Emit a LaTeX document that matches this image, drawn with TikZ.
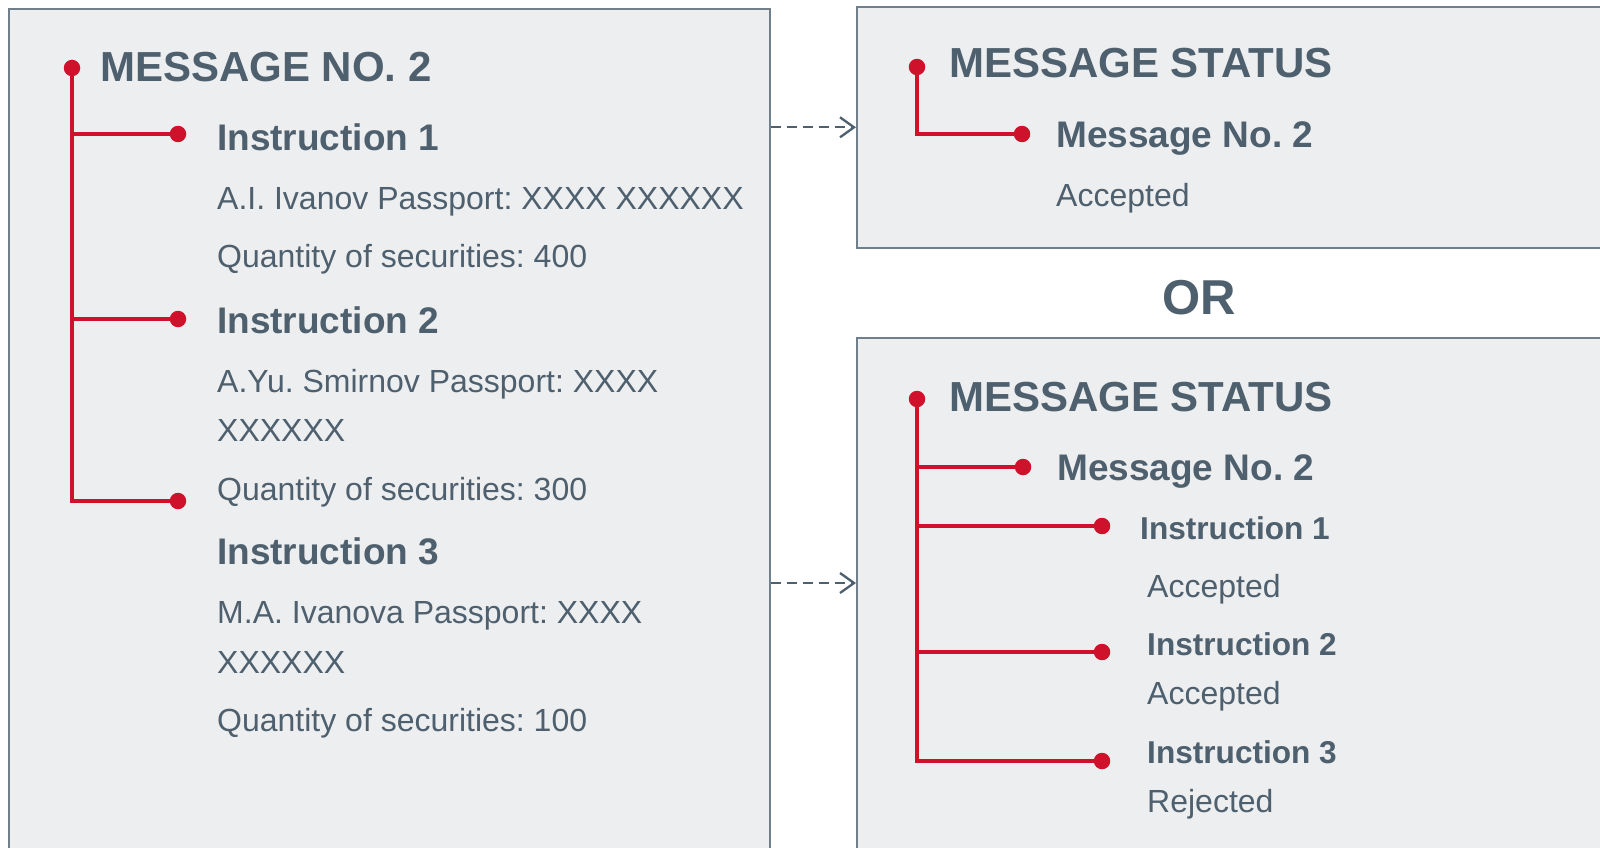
\documentclass[tikz,border=0pt]{standalone}
\usepackage{fontspec}
\setmainfont{Liberation Sans}
\usetikzlibrary{arrows.meta}
\definecolor{panelfill}{HTML}{EDEEF0}
\definecolor{panelline}{HTML}{6F7F8C}
\definecolor{slate}{HTML}{4E5F6E}
\definecolor{tred}{HTML}{D0112B}
\frenchspacing
\tikzset{
  panel/.style={draw=panelline,line width=1.6pt,fill=panelfill,anchor=north west,inner sep=0},
  ttl/.style={anchor=base west,inner sep=0,text=slate,font=\fontsize{42}{50}\selectfont\bfseries},
  hd/.style={anchor=base west,inner sep=0,text=slate,font=\fontsize{37}{44}\selectfont\bfseries},
  hds/.style={anchor=base west,inner sep=0,text=slate,font=\fontsize{31.6}{38}\selectfont\bfseries},
  txt/.style={anchor=base west,inner sep=0,text=slate,font=\fontsize{32}{38}\selectfont},
  dot/.style={circle,fill=tred,inner sep=0,minimum size=16.5pt},
  tree/.style={draw=tred,line width=3.2pt},
  flow/.style={draw=slate,line width=2.3pt,dash pattern=on 10pt off 6pt,-{Straight Barb[length=14pt,width=20pt]}}
}
\begin{document}
\begin{tikzpicture}[x=1pt,y=-1pt]
\useasboundingbox (0,0) rectangle (1600,848);
\clip (0,0) rectangle (1600,848);
% panels
\node[panel,minimum width=761pt,minimum height=860pt] (msg) at (8,8) {};
\node[panel,minimum width=760pt,minimum height=241pt] (statA) at (856,6) {};
\node[panel,minimum width=760pt,minimum height=530pt] (statB) at (856,337) {};
% message
\node[ttl] (msgttl) at (100,82) {MESSAGE NO. 2};
\node[hd] (ins1) at (217,150) {Instruction 1};
\node[txt] (pas1) at (217,209) {A.I. Ivanov Passport: XXXX XXXXXX};
\node[txt] (qty1) at (217,267) {Quantity of securities: 400};
\node[hd] (ins2) at (217,333) {Instruction 2};
\node[txt] (pas2) at (217,392) {A.Yu. Smirnov Passport: XXXX};
\node[txt] (pas2b) at (217,441) {XXXXXX};
\node[txt] (qty2) at (217,500) {Quantity of securities: 300};
\node[hd] (ins3) at (217,564) {Instruction 3};
\node[txt] (pas3) at (217,623) {M.A. Ivanova Passport: XXXX};
\node[txt] (pas3b) at (217,673) {XXXXXX};
\node[txt] (qty3) at (217,731) {Quantity of securities: 100};
\node[dot] (m0) at (72,68) {};
\node[dot] (m1) at (178,134) {};
\node[dot] (m2) at (178,319) {};
\node[dot] (m3) at (178,501) {};
\draw[tree] (m0) |- (m1);
\draw[tree] (m0) |- (m2);
\draw[tree] (m0) |- (m3);
% status, accepted
\node[ttl] (attl) at (949,78) {MESSAGE STATUS};
\node[hd] (amsg) at (1056,147) {Message No. 2};
\node[txt] (aacc) at (1056,206) {Accepted};
\node[dot] (a0) at (917,67) {};
\node[dot] (a1) at (1022,134) {};
\draw[tree] (a0) |- (a1);
% or
\node[anchor=base,inner sep=0,text=slate,font=\fontsize{49}{56}\selectfont\bfseries] (or) at (1199,314) {OR};
% status, per instruction
\node[ttl] (bttl) at (949,411) {MESSAGE STATUS};
\node[hd] (bmsg) at (1057,480) {Message No. 2};
\node[hds] (bins1) at (1140,539) {Instruction 1};
\node[txt] (bacc1) at (1147,597) {Accepted};
\node[hds] (bins2) at (1147,655) {Instruction 2};
\node[txt] (bacc2) at (1147,704) {Accepted};
\node[hds] (bins3) at (1147,763) {Instruction 3};
\node[txt] (brej3) at (1147,812) {Rejected};
\node[dot] (b0) at (917,399) {};
\node[dot] (b1) at (1023,467) {};
\node[dot] (b2) at (1102,526) {};
\node[dot] (b3) at (1102,652) {};
\node[dot] (b4) at (1102,761) {};
\foreach \k in {1,...,4} \draw[tree] (b0) |- (b\k);
% arrows
\coordinate (arrB) at (0,583);
\draw[flow] (msg.east |- statA.west) -- (statA.west);
\draw[flow] (msg.east |- arrB) -- (statB.west |- arrB);
\end{tikzpicture}
\end{document}
